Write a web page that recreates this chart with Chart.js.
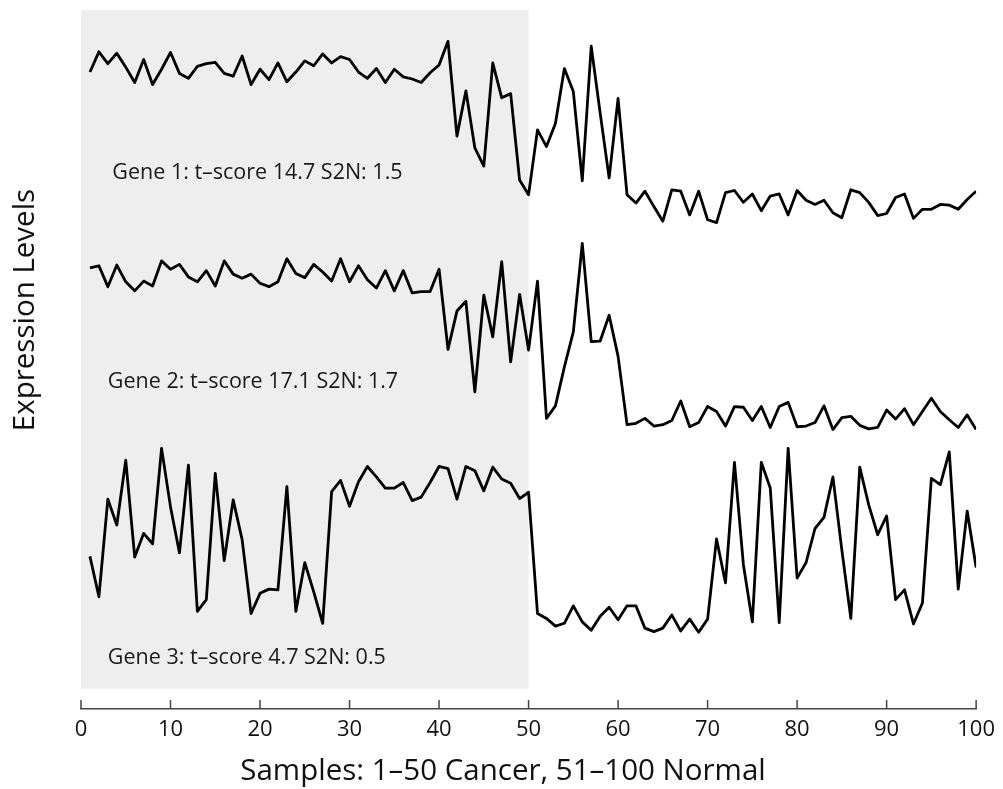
<!DOCTYPE html>
<html><head><meta charset="utf-8">
<script src="https://cdn.jsdelivr.net/npm/chart.js@4"></script>
<style>html,body{margin:0;padding:0;background:#fff}#wrap{width:1003px;height:789px;position:relative}</style>
</head><body><div id="wrap"><canvas id="c"></canvas></div>
<script>
const samples = Array.from({length: 100}, (_, i) => i + 1);
const gene1 = [91.1,94.0,92.3,93.8,91.8,89.6,92.9,89.3,91.5,93.9,
  90.9,90.2,91.9,92.3,92.5,90.9,90.5,93.4,89.3,91.5,
  90.0,92.4,89.7,91.1,92.7,92.0,93.7,92.4,93.3,92.9,
  91.1,90.2,91.6,89.6,91.5,90.4,90.1,89.6,91.0,92.1,
  95.5,81.9,88.4,80.2,77.6,92.4,87.4,88.0,75.6,73.5,
  82.8,80.4,83.7,91.6,88.3,75.5,94.8,85.2,75.9,87.3,
  73.5,72.3,74.0,71.8,69.7,74.2,74.0,70.6,74.0,69.9,
  69.5,73.8,74.1,72.4,73.6,71.2,73.3,73.6,70.6,74.1,
  72.7,72.1,72.7,70.9,70.2,74.2,73.8,72.4,70.5,70.8,
  73.1,73.6,70.1,71.4,71.4,72.1,72.0,71.4,72.8,74.0];
const gene2 = [63.0,63.3,60.3,63.4,61.0,59.7,61.1,60.4,64.0,62.8,
  63.5,61.7,61.0,62.6,60.4,64.0,62.1,61.5,62.1,60.8,
  60.3,61.0,64.3,62.2,61.6,63.5,62.4,61.1,64.3,61.0,
  63.3,61.3,60.1,62.6,59.7,62.6,59.4,59.6,59.6,62.8,
  51.3,56.8,58.2,45.2,59.1,53.1,63.9,49.5,59.2,51.2,
  61.1,41.4,43.2,48.8,53.8,66.5,52.4,52.5,56.2,50.3,
  40.5,40.7,41.4,40.3,40.5,41.1,43.9,40.2,40.8,43.1,
  42.4,40.3,43.1,43.0,41.1,43.1,40.1,43.1,43.7,40.2,
  40.3,40.8,43.2,39.8,41.5,41.7,40.4,39.9,40.1,42.6,
  41.3,42.8,40.5,42.4,44.3,42.4,41.2,40.1,41.9,39.8];
const gene3 = [21.6,15.8,29.8,26.1,35.4,21.5,24.9,23.4,37.1,28.7,
  22.1,34.7,13.7,15.4,33.5,21.0,29.7,24.0,13.4,16.3,
  16.9,16.8,31.6,13.7,20.7,16.5,12.0,30.9,32.5,28.8,
  32.3,34.5,33.0,31.4,31.4,32.2,29.6,30.1,32.2,34.5,
  34.2,29.8,34.5,33.9,31.0,34.4,32.7,32.1,29.9,30.8,
  13.4,12.7,11.6,12.0,14.5,12.2,11.0,13.0,14.3,12.5,
  14.5,14.5,11.3,10.8,11.3,13.2,10.9,12.6,10.7,12.6,
  24.1,17.8,35.1,20.4,12.2,35.1,31.4,12.1,37.1,18.5,
  20.7,25.6,27.2,33.0,22.5,12.7,34.4,29.0,24.7,27.4,
  15.4,16.8,11.9,14.9,32.8,31.9,36.6,16.9,28.1,20.0];
const geneLabels = ['Gene 1: t\u2013score 14.7 S2N: 1.5', 'Gene 2: t\u2013score 17.1 S2N: 1.7', 'Gene 3: t\u2013score 4.7 S2N: 0.5'];
const labelAnchorX = [3.5, 3.0, 3.0];
const labelAnchorY = [76.7, 46.7, 7.0];
const cancerRange = [0, 50];
const xTitle = 'Samples: 1\u201350 Cancer, 51\u2013100 Normal';
const yTitle = 'Expression Levels';

const toPts = arr => arr.map((v, i) => ({x: samples[i], y: v}));

const decor = {
  id: 'decor',
  beforeDatasetsDraw(chart) {
    const {ctx, scales: {x, y}} = chart;
    ctx.save();
    ctx.fillStyle = '#eeeeee';
    const x0 = x.getPixelForValue(cancerRange[0]), x1 = x.getPixelForValue(cancerRange[1]);
    const y0 = y.getPixelForValue(100), y1 = y.getPixelForValue(2.58);
    ctx.fillRect(x0, y0, x1 - x0, y1 - y0);
    ctx.fillStyle = '#1a1a1a';
    ctx.font = '21.5px "Open Sans"';
    ctx.textBaseline = 'middle';
    ctx.textAlign = 'left';
    geneLabels.forEach((t, i) => ctx.fillText(t, x.getPixelForValue(labelAnchorX[i]), y.getPixelForValue(labelAnchorY[i])));
    ctx.restore();
  },
  afterDraw(chart) {
    const {ctx, scales: {x}, chartArea} = chart;
    ctx.save();
    ctx.strokeStyle = '#444';
    ctx.lineWidth = 1.5;
    x.ticks.forEach(t => {
      const px = x.getPixelForValue(t.value);
      ctx.beginPath();
      ctx.moveTo(px, chartArea.bottom);
      ctx.lineTo(px, chartArea.bottom - 9);
      ctx.stroke();
    });
    ctx.fillStyle = '#111';
    ctx.font = '29.5px "Open Sans"';
    ctx.textAlign = 'center';
    ctx.textBaseline = 'middle';
    ctx.fillText(xTitle, 503, 772);
    ctx.translate(26, 310);
    ctx.rotate(-Math.PI / 2);
    ctx.fillText(yTitle, 0, 0);
    ctx.restore();
  }
};

new Chart(document.getElementById('c'), {
  type: 'line',
  data: {
    datasets: [gene1, gene2, gene3].map((g, i) => ({
      label: 'Gene ' + (i + 1),
      data: toPts(g),
      borderColor: '#000',
      borderWidth: 2.8,
      pointRadius: 0,
      tension: 0,
      borderJoinStyle: 'round',
      fill: false
    }))
  },
  options: {
    responsive: true,
    maintainAspectRatio: false,
    animation: false,
    devicePixelRatio: 1,
    layout: {padding: {left: 81, right: 25, top: 10, bottom: 0}},
    plugins: {legend: {display: false}, tooltip: {enabled: false}},
    scales: {
      x: {
        type: 'linear',
        min: 0, max: 100,
        ticks: {stepSize: 10, color: '#111', font: {family: 'Open Sans', size: 22}, padding: 8, maxRotation: 0},
        grid: {display: false, drawTicks: false},
        border: {display: true, color: '#444', width: 1.5},
        afterFit(s) { s.height = 80; }
      },
      y: {
        display: false,
        min: -0.3, max: 100
      }
    }
  },
  plugins: [decor]
});
</script>
</body></html>
